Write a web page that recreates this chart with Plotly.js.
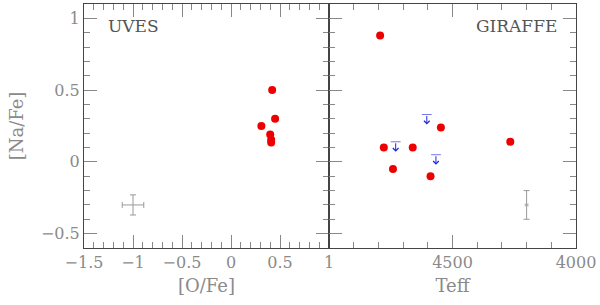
<!DOCTYPE html>
<html>
<head>
<meta charset="utf-8">
<script src="https://cdn.plot.ly/plotly-3.0.1.min.js"></script>
<style>
  html, body { margin: 0; padding: 0; background: #fff; }
  #chart { width: 600px; height: 305px; }
</style>
</head>
<body>
<div id="chart"></div>
<script>
// UVES panel: [Na/Fe] vs [O/Fe]
const uvesOFe = [0.42, 0.45, 0.31, 0.40, 0.41, 0.41];
const uvesNaFe = [0.50, 0.30, 0.25, 0.19, 0.155, 0.135];

// GIRAFFE panel: [Na/Fe] vs Teff (detections)
const girTeff = [4793, 4778, 4741, 4661, 4547, 4589, 4266];
const girNaFe = [0.88, 0.10, -0.05, 0.10, 0.24, -0.10, 0.14];

// GIRAFFE upper limits
const limTeff = [4730, 4604, 4567];
const limNaFe = [0.14, 0.33, 0.05];

// typical error bars
const uvesErr = { x: -1.0, y: -0.30, ex: 0.11, ey: 0.07 };
const girErr = { x: 4200, y: -0.30, ex: 8, ey: 0.10 };

const FONT = 'DejaVu Serif, Liberation Serif, serif';
const AXIS_COLOR = '#444';
const TICK_COLOR = '#888';
const LABEL_COLOR = '#8a8a8a';
const RED = '#ee0000';
const BLUE = '#2222dd';

const commonAxis = {
  showgrid: false,
  zeroline: false,
  showline: true,
  linecolor: AXIS_COLOR,
  linewidth: 1,
  mirror: 'allticks',
  ticks: 'inside',
  ticklen: 13,
  tickcolor: TICK_COLOR,
  tickwidth: 1,
  tickfont: { family: FONT, size: 16, color: LABEL_COLOR },
};

const traces = [
  {
    x: uvesOFe, y: uvesNaFe,
    mode: 'markers', type: 'scatter',
    marker: { color: RED, size: 8 },
    xaxis: 'x', yaxis: 'y',
  },
  {
    x: [uvesErr.x], y: [uvesErr.y],
    mode: 'markers', type: 'scatter',
    marker: { size: 1, color: 'rgba(0,0,0,0)' },
    error_x: { type: 'data', array: [uvesErr.ex], color: '#999', thickness: 1, width: 3 },
    error_y: { type: 'data', array: [uvesErr.ey], color: '#999', thickness: 1, width: 3 },
    xaxis: 'x', yaxis: 'y',
  },
  {
    x: girTeff, y: girNaFe,
    mode: 'markers', type: 'scatter',
    marker: { color: RED, size: 8 },
    xaxis: 'x2', yaxis: 'y2',
  },
  {
    // short bar marking the upper-limit value
    x: limTeff, y: limNaFe,
    mode: 'markers', type: 'scatter',
    marker: { symbol: 'line-ew-open', size: 7, color: '#7777ee', line: { width: 1 } },
    xaxis: 'x2', yaxis: 'y2',
  },
  {
    x: [girErr.x], y: [girErr.y],
    mode: 'markers', type: 'scatter',
    marker: { symbol: 'x-thin-open', size: 3, color: '#aaa', line: { width: 1 } },
    error_x: { type: 'data', array: [girErr.ex], color: '#999', thickness: 1, width: 0 },
    error_y: { type: 'data', array: [girErr.ey], color: '#999', thickness: 1, width: 3 },
    xaxis: 'x2', yaxis: 'y2',
  },
];

// down arrows for the upper limits
const limitArrows = limTeff.map((t, i) => ({
  x: t, y: limNaFe[i], xref: 'x2', yref: 'y2',
  text: '', showarrow: true,
  ax: 0, ay: -10, yshift: -10,
  arrowhead: 4, arrowsize: 1.1, arrowwidth: 1, arrowcolor: BLUE,
}));

const layout = {
  width: 600, height: 305,
  margin: { l: 0, r: 0, t: 0, b: 0 },
  paper_bgcolor: '#fff',
  plot_bgcolor: '#fff',
  showlegend: false,
  xaxis: Object.assign({}, commonAxis, {
    domain: [84 / 600, 329 / 600],
    range: [-1.5, 1.0],
    tickvals: [-1.5, -1, -0.5, 0, 0.5, 1],
    ticktext: ['\u22121.5', '\u22121', '\u22120.5', '0', '0.5', '1'],
    minor: { ticks: 'inside', ticklen: 6, dtick: 0.1, tick0: 0, tickcolor: TICK_COLOR },
    title: { text: '[O/Fe]', font: { family: FONT, size: 18, color: LABEL_COLOR }, standoff: 8 },
    anchor: 'y',
  }),
  yaxis: Object.assign({}, commonAxis, {
    domain: [57 / 305, 301 / 305],
    range: [-0.6, 1.1],
    tickvals: [-0.5, 0, 0.5, 1],
    ticktext: ['\u22120.5', '0', '0.5', '1'],
    minor: { ticks: 'inside', ticklen: 6, dtick: 0.1, tick0: 0, tickcolor: TICK_COLOR },
    title: { text: '[Na/Fe]', font: { family: FONT, size: 18, color: LABEL_COLOR }, standoff: 12 },
    anchor: 'x',
  }),
  xaxis2: Object.assign({}, commonAxis, {
    domain: [329 / 600, 576 / 600],
    range: [5000, 4000],
    tickvals: [4500, 4000],
    minor: { ticks: 'inside', ticklen: 6, dtick: 100, tick0: 4000, tickcolor: TICK_COLOR },
    title: { text: 'Teff', font: { family: FONT, size: 18, color: LABEL_COLOR }, standoff: 8 },
    anchor: 'y2',
  }),
  yaxis2: Object.assign({}, commonAxis, {
    domain: [57 / 305, 301 / 305],
    range: [-0.6, 1.1],
    tickvals: [-0.5, 0, 0.5, 1],
    showticklabels: false,
    minor: { ticks: 'inside', ticklen: 6, dtick: 0.1, tick0: 0, tickcolor: TICK_COLOR },
    anchor: 'x2',
  }),
  annotations: [
    {
      text: 'UVES', xref: 'paper', yref: 'paper',
      x: 106 / 600, y: 1 - 26 / 305, xanchor: 'left', yanchor: 'middle',
      showarrow: false, font: { family: FONT, size: 17, color: '#555' },
    },
    {
      text: 'GIRAFFE', xref: 'paper', yref: 'paper',
      x: 559 / 600, y: 1 - 26 / 305, xanchor: 'right', yanchor: 'middle',
      showarrow: false, font: { family: FONT, size: 17, color: '#555' },
    },
  ].concat(limitArrows),
};

Plotly.newPlot('chart', traces, layout, { staticPlot: true });
</script>
</body>
</html>
